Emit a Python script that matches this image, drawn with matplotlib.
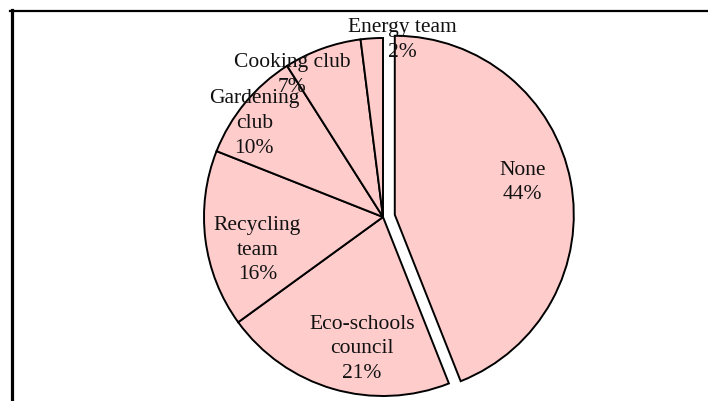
import matplotlib
matplotlib.use("Agg")
import matplotlib.pyplot as plt
from matplotlib.lines import Line2D

plt.rcParams['font.family'] = ['Liberation Serif', 'DejaVu Serif']

labels = ['None', 'Eco-schools\ncouncil', 'Recycling\nteam', 'Gardening\nclub',
          'Cooking club', 'Energy team']
shares = [44, 21, 16, 10, 7, 2]
# pull the "None" slice out a little (pie uses data units for this)
explode = [12, 0, 0, 0, 0, 0]

# where each label sits, relative to its wedge centre, in units of the radius
label_offsets = [(0.715, 0.18), (-0.118, -0.736), (-0.702, -0.185),
                 (-0.719, 0.522), (-0.506, 0.792), (0.107, 0.99)]

fig = plt.figure(figsize=(7.08, 4.01), dpi=100)
ax = fig.add_axes([0, 0, 1, 1])

wedges, _ = ax.pie(shares, explode=explode, startangle=90, counterclock=False,
                   center=(383, 184), radius=179, frame=True,
                   colors=['#ffcccc'] * len(shares),
                   wedgeprops=dict(edgecolor='black', linewidth=1.4))

for w, lab, val, (ox, oy) in zip(wedges, labels, shares, label_offsets):
    cx, cy = w.center
    ax.text(cx + ox * w.r, cy + oy * w.r, f'{lab}\n{val}%', ha='center',
            va='center', fontsize=15.5, linespacing=1.4, color='#111111')

ax.set_xlim(0, 708)
ax.set_ylim(0, 401)
ax.set_aspect('equal')
ax.axis('off')

# border lines along the top and left edge
fig.add_artist(Line2D([10 / 708, 1], [1 - 11 / 401, 1 - 11 / 401],
                      color='black', linewidth=1.6))
fig.add_artist(Line2D([11.5 / 708, 11.5 / 708], [0, 1 - 10 / 401],
                      color='black', linewidth=2.3))

fig.savefig('out.png', dpi=100)
